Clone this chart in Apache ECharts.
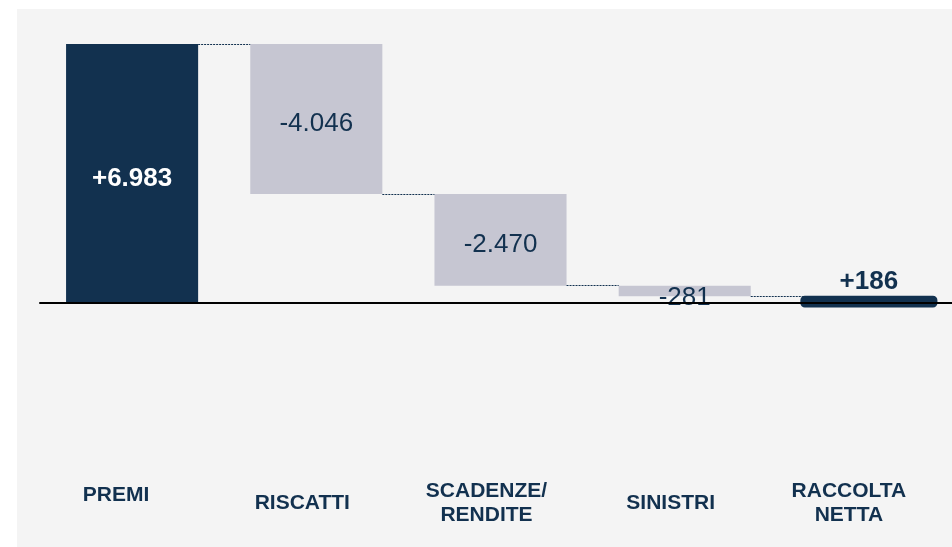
<!DOCTYPE html>
<html>
<head>
<meta charset="utf-8">
<script src="https://cdn.jsdelivr.net/npm/echarts@6/dist/echarts.min.js"></script>
<style>
  html, body { margin: 0; padding: 0; background: #ffffff; }
  #chart { position: absolute; left: 17px; top: 9px; width: 935px; height: 538px; background: #f4f4f4; }
</style>
</head>
<body>
<div id="chart"></div>
<script>
// categories and values (millions)
const categories = ['PREMI', 'RISCATTI', 'SCADENZE/\nRENDITE', 'SINISTRI', 'RACCOLTA\nNETTA']
const deltas = [6983, -4046, -2470, -281]
const netTotal = 186

const NAVY = '#12314f'
const GREY = '#c6c6d2'
const FONT = '"Liberation Sans", Arial, sans-serif'
const BAR_RATIO = 0.717

// format like 6.983 with sign
function fmt(v) {
  const s = Math.abs(v).toString().replace(/\B(?=(\d{3})+(?!\d))/g, '.')
  return (v < 0 ? '-' : '+') + s
}

// build waterfall bases
const bases = []
const heights = []
const levels = []
let running = 0
deltas.forEach((d) => {
  const next = running + d
  bases.push(Math.min(running, next))
  heights.push(Math.abs(d))
  running = next
  levels.push(running)
})
bases.push(0)
heights.push(netTotal)

const lastIdx = heights.length - 1

const barData = heights.map((h, i) => {
  const isFirst = i === 0
  const isNet = i === lastIdx
  const signed = isNet ? netTotal : deltas[i]
  return {
    value: h,
    // net bar is painted by the custom series below, only its label lives here
    itemStyle: { color: isNet ? 'transparent' : (isFirst ? NAVY : GREY) },
    label: {
      show: true,
      formatter: fmt(signed),
      fontFamily: FONT,
      fontSize: 26,
      color: isFirst ? '#ffffff' : NAVY,
      fontWeight: isFirst || isNet ? 'bold' : 'normal',
      position: isNet ? 'top' : 'inside',
      distance: isNet ? 1 : 5,
      offset: isNet ? [0, 0] : (i === 3 ? [0, 7] : [0, 5])
    }
  }
})

// connector levels: [category index, value]
const connectors = levels.map((v, i) => [i, v])

const chart = echarts.init(document.getElementById('chart'))

chart.setOption({
  animation: false,
  grid: { left: 23, top: 34.4, width: 921, bottom: 132.7, outerBoundsMode: 'none', containLabel: false },
  xAxis: [
    {
      type: 'category',
      data: categories,
      z: 10,
      offset: 2,
      axisLine: { onZero: true, lineStyle: { color: '#000000', width: 2 } },
      axisTick: { show: false },
      axisLabel: { show: false }
    },
    {
      type: 'category',
      data: categories,
      position: 'bottom',
      axisLine: { show: false, onZero: false },
      axisTick: { show: false },
      axisLabel: {
        interval: 0,
        hideOverlap: false,
        margin: 88.5,
        verticalAlign: 'middle',
        align: 'center',
        fontFamily: FONT,
        fontSize: 21,
        fontWeight: 'bold',
        lineHeight: 24,
        color: NAVY,
        padding: [0, 28, 0, 0],
        formatter: (v) => {
          if (v === 'PREMI') return '{p|' + v + '}'
          if (v.indexOf('RACCOLTA') === 0) return v.split('\n').map((s) => '{r|' + s + '}').join('\n')
          return v
        },
        rich: {
          p: { fontFamily: FONT, fontSize: 21, fontWeight: 'bold', color: NAVY, lineHeight: 24, padding: [0, 4, 16, 0] },
          r: { fontFamily: FONT, fontSize: 21, fontWeight: 'bold', color: NAVY, lineHeight: 24, padding: [0, 12, 0, 0] }
        }
      }
    }
  ],
  yAxis: {
    type: 'value',
    min: -3000,
    max: 7000,
    show: false,
    splitLine: { show: false }
  },
  series: [
    {
      type: 'bar',
      stack: 'w',
      xAxisIndex: 0,
      data: bases,
      itemStyle: { color: 'transparent' },
      silent: true,
      barWidth: (BAR_RATIO * 100) + '%'
    },
    {
      type: 'bar',
      stack: 'w',
      xAxisIndex: 0,
      data: barData,
      barWidth: (BAR_RATIO * 100) + '%'
    },
    {
      // dotted connectors between bars
      type: 'custom',
      xAxisIndex: 0,
      data: connectors,
      z: 5,
      renderItem: (params, api) => {
        const a = api.coord([api.value(0), api.value(1)])
        const b = api.coord([api.value(0) + 1, api.value(1)])
        const half = api.size([1, 0])[0] * BAR_RATIO / 2
        const y = Math.floor(a[1]) + 0.5
        return {
          type: 'line',
          shape: { x1: a[0] + half, y1: y, x2: b[0] - half, y2: y },
          style: { stroke: NAVY, lineWidth: 1, lineDash: [2, 1] }
        }
      }
    },
    {
      // net result bar with a thick rounded outline
      type: 'custom',
      xAxisIndex: 0,
      data: [[lastIdx, netTotal]],
      z: 3,
      renderItem: (params, api) => {
        const top = api.coord([api.value(0), api.value(1)])
        const base = api.coord([api.value(0), 0])
        const w = api.size([1, 0])[0] * BAR_RATIO
        return {
          type: 'rect',
          shape: { x: top[0] - w / 2, y: top[1] + 2, width: w, height: base[1] - top[1], r: 2 },
          style: { fill: NAVY, stroke: NAVY, lineWidth: 5 }
        }
      }
    }
  ]
})
</script>
</body>
</html>
